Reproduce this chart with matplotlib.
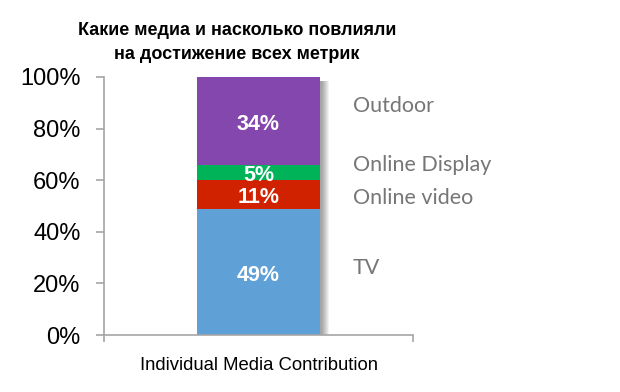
import matplotlib
matplotlib.use('Agg')
import matplotlib.pyplot as plt
from matplotlib.patches import Rectangle

# data
category = "Individual Media Contribution"
media = ["TV", "Online video", "Online Display", "Outdoor"]
shares = [49, 11, 6, 34]
share_labels = ["49%", "11%", "5%", "34%"]
colors = ["#5fa0d7", "#d02100", "#00b258", "#8447ad"]
title = "Какие медиа и насколько повлияли\nна достижение всех метрик"
yticks = [0, 20, 40, 60, 80, 100]

plt.rcParams['font.family'] = ['Liberation Sans', 'DejaVu Sans']

fig = plt.figure(figsize=(6.2, 3.92), dpi=100)
ax = fig.add_axes([0.168, 0.1454, 0.498, 0.6582])

bar_w = 0.40
# soft shadow on the right of the bar
for k in range(1, 9):
    ax.add_patch(Rectangle((-bar_w / 2 + 0.002, -0.5), bar_w + k * 0.0032, 99.0,
                           color='black', alpha=0.05, lw=0, zorder=1))

bottom = 0
for val, lab, col in zip(shares, share_labels, colors):
    ax.bar(0, val, bottom=bottom, width=bar_w, color=col, zorder=2, linewidth=0)
    ax.text(0, bottom + val / 2 - 1.3, lab, ha='center', va='center',
            color='white', fontsize=15.5, fontweight='bold', zorder=3)
    bottom += val

# side labels instead of a legend
label_y = {"Outdoor": 88.8, "Online Display": 65.9, "Online video": 53.1, "TV": 26.0}
for name in media:
    ax.text(0.305, label_y[name], name, ha='left', va='center', color='#767676',
            fontsize=15.5, family=['Lato', 'DejaVu Sans'], clip_on=False)

ax.set_xlim(-0.5, 0.5)
ax.set_ylim(0, 100)
ax.set_yticks(yticks)
ax.set_yticklabels([f"{v}%" for v in yticks], fontsize=17)
ax.set_xticks([-0.5, 0.5])
ax.set_xticklabels([])
ax.set_xlabel(category, fontsize=13.3, labelpad=7)

for s in ['top', 'right']:
    ax.spines[s].set_visible(False)
for s in ['left', 'bottom']:
    ax.spines[s].set_color('#a6a6a6')
    ax.spines[s].set_linewidth(1.2)
ax.tick_params(axis='y', length=6, width=1.2, color='#a6a6a6', pad=11)
ax.tick_params(axis='x', length=5, width=1.2, color='#a6a6a6')

fig.text(0.382, 0.8916, title, ha='center', va='center', fontsize=13,
         fontweight='bold', linespacing=1.55)

fig.savefig('out.png', dpi=100)
